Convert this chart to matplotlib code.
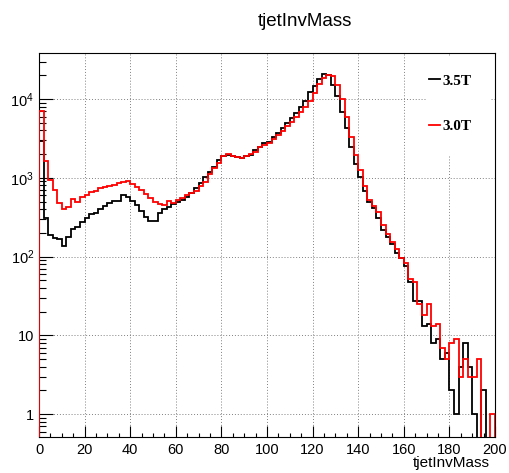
import numpy as np
import matplotlib
matplotlib.use("Agg")
import matplotlib.pyplot as plt
from matplotlib import ticker
from matplotlib.patches import Rectangle

plt.rcParams['font.family'] = ['Liberation Sans', 'DejaVu Sans']
plt.rcParams['mathtext.default'] = 'regular'

# 100 bins of 2 GeV between 0 and 200
bin_edges = np.linspace(0, 200, 101)

mass_35T = [2900, 307, 188, 171, 167, 136, 179, 224, 238, 277,
            307, 345, 355, 398, 440, 476, 510, 513, 606, 577,
            513, 450, 383, 321, 286, 286, 355, 400, 430, 460,
            490, 530, 577, 637, 740, 850, 1030, 1200, 1390, 1700,
            1900, 1980, 1900, 1830, 1780, 1880, 1980, 2240, 2500, 2750,
            2890, 3275, 3760, 4270, 4940, 5710, 6610, 7890, 9570, 12200,
            14700, 18000, 20900, 20300, 15100, 10800, 6930, 4270, 2495, 1500,
            1016, 688, 499, 410, 307, 218, 179, 145, 112, 97,
            75, 48, 27, 27, 13, 14, 8, 9, 5, 6,
            2, 1, 4, 8, 4, 1, 0, 2, 0, 0]

mass_30T = [7000, 1660, 940, 702, 476, 403, 431, 535, 499, 577,
            606, 669, 683, 751, 774, 789, 820, 853, 880, 922,
            836, 760, 702, 624, 561, 499, 466, 450, 513, 484,
            524, 551, 610, 650, 686, 789, 895, 1110, 1320, 1530,
            1890, 2000, 1890, 1825, 1770, 1890, 2030, 2150, 2450, 2640,
            2755, 3120, 3510, 3980, 4570, 5180, 5990, 6930, 8040, 9500,
            11900, 15600, 18400, 20300, 19900, 15100, 10000, 5990, 3345, 1955,
            1260, 789, 524, 440, 365, 252, 194, 155, 124, 97,
            82, 52, 47, 25, 18, 25, 13, 14, 7, 5,
            8, 9, 3, 5, 3, 3, 5, 0, 0, 1]

labels = ['3.5T', '3.0T']
colors = ['black', 'red']

W, H = 510, 473
fig = plt.figure(figsize=(W / 100, H / 100), dpi=100)
ax = fig.add_axes([39 / W, 36.5 / H, 456 / W, 383.5 / H])

for vals, lab, col in zip([mass_35T, mass_30T], labels, colors):
    ax.stairs(vals, bin_edges, baseline=0, color=col, lw=1.3, label=lab, zorder=3)

ax.set_yscale('log')
ax.set_xlim(0, 200)
ax.set_ylim(0.52, 38500)

ax.xaxis.set_major_locator(ticker.MultipleLocator(20))
ax.xaxis.set_minor_locator(ticker.MultipleLocator(5))
ax.yaxis.set_major_locator(ticker.LogLocator(base=10, numticks=10))
ax.yaxis.set_minor_locator(ticker.LogLocator(base=10, subs=np.arange(2, 10), numticks=20))
ax.yaxis.set_minor_formatter(ticker.NullFormatter())


def root_log_fmt(v, pos):
    e = int(round(np.log10(v)))
    if e == 0:
        return '1'
    if e == 1:
        return '10'
    return '$10^{%d}$' % e


ax.yaxis.set_major_formatter(ticker.FuncFormatter(root_log_fmt))

ax.tick_params(which='both', direction='in', top=False, right=False, width=0.8)
ax.tick_params(axis='x', which='major', length=7.7, pad=4.5, labelsize=10.5)
ax.tick_params(axis='x', which='minor', length=3.2)
ax.tick_params(axis='y', which='major', length=10, pad=3.5, labelsize=10.5)
ax.tick_params(axis='y', which='minor', length=5)

ax.grid(True, which='major', ls=(0, (1, 2)), color='#808080', lw=0.7)
for sp in ax.spines.values():
    sp.set_linewidth(0.8)

ax.set_xlabel('tjetInvMass', fontsize=11, ha='right')
ax.xaxis.set_label_coords(451 / 456, -19 / 383.5)

# white legend area (hides the grid like in ROOT)
ax.add_patch(Rectangle((388 / 456, 281.5 / 383.5), 63 / 456, 99 / 383.5,
                       transform=ax.transAxes, facecolor='white',
                       edgecolor='none', zorder=2))
ax.legend(loc='upper left', bbox_to_anchor=(390 / 456, 362.5 / 383.5),
          frameon=False, borderpad=0, borderaxespad=0,
          handlelength=0.72, handletextpad=0.13, labelspacing=2.06,
          prop={'family': 'Liberation Serif', 'weight': 'bold', 'size': 11})

fig.text(305 / W, 1 - 22 / H, 'tjetInvMass', fontsize=13.5, ha='center', va='center')

fig.savefig('out.png', dpi=100)
